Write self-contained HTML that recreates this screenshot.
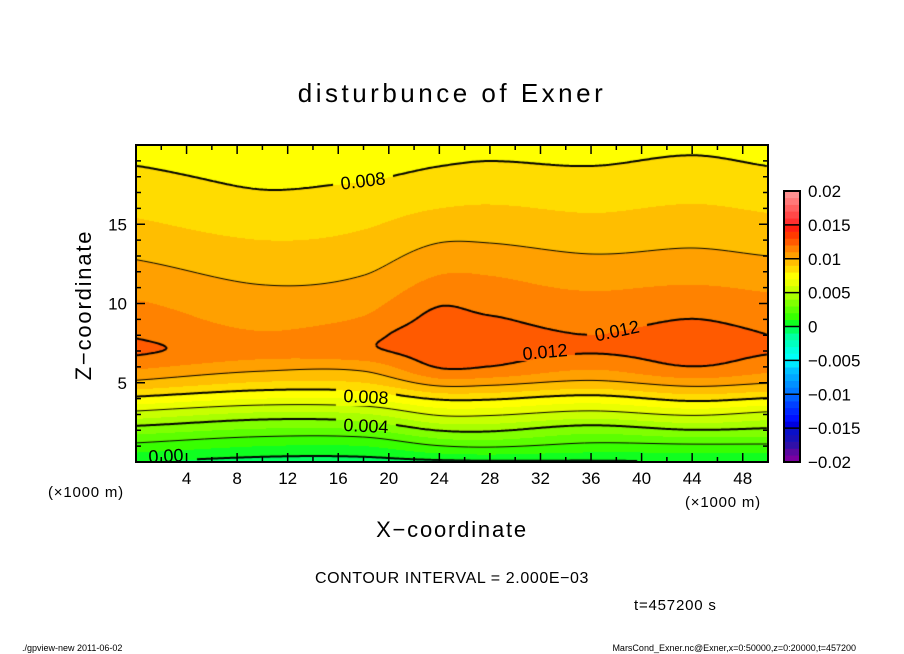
<!DOCTYPE html>
<html><head><meta charset="utf-8">
<style>
body{margin:0;background:#fff;width:904px;height:654px;overflow:hidden;position:relative;font-family:"Liberation Sans","DejaVu Sans",sans-serif;}
#plot{position:absolute;left:137px;top:145px;}
svg{position:absolute;left:0;top:0;}
</style></head>
<body>
<canvas id="plot" width="631" height="317"></canvas>
<svg id="ov" width="904" height="654"></svg>
<script>
// ---- data (values in units of 1e-3) ----
const xCols = [0, 10, 18, 24, 28, 36, 44, 50];
const zRows = [0, 1, 2, 3, 4, 5, 6, 7, 8, 9, 10, 12, 14, 16, 18, 20];
const col0  = [0, 1.7, 3.5, 5.6, 7.8, 9.8, 11.2, 12.2, 11.9, 11.5, 11.1, 10.3, 9.5, 8.8, 8.2, 7.6];
const col10 = [-0.4, 1.0, 2.8, 4.7, 7.0, 8.9, 10.4, 11.4, 11.1, 10.7, 10.4, 9.7, 9.0, 8.3, 7.8, 7.3];
const col18 = [-0.4, 1.0, 2.9, 4.9, 7.1, 9.0, 10.4, 11.8, 11.7, 11.1, 10.7, 9.9, 9.2, 8.6, 7.9, 7.4];
const col24 = [-0.2, 2.0, 4.1, 6.2, 8.2, 10.5, 12.1, 12.5, 12.6, 12.3, 11.9, 10.9, 9.9, 9.0, 8.2, 7.6];
const col28 = [-0.1, 2.2, 4.2, 6.2, 8.2, 10.4, 12.0, 12.4, 12.4, 12.1, 11.6, 10.9, 9.9, 9.1, 8.3, 7.7];
const col36 = [-0.1, 1.7, 3.4, 5.6, 7.6, 9.8, 11.2, 12.1, 12.0, 11.6, 11.3, 10.5, 9.6, 8.9, 8.2, 7.6];
const col44 = [0, 1.8, 4.0, 6.2, 8.4, 10.5, 12.0, 12.4, 12.4, 12.0, 11.6, 10.6, 9.8, 9.1, 8.4, 7.8];
const col50 = [0, 1.8, 3.8, 5.7, 8.0, 10.1, 11.4, 12.1, 12.0, 11.6, 11.3, 10.4, 9.6, 8.9, 8.2, 7.6];
const columns = [col0, col10, col18, col24, col28, col36, col44, col50];
const contourLevels = [-2, 0, 2, 4, 6, 8, 10, 12, 14];
const xTicks = [4, 8, 12, 16, 20, 24, 28, 32, 36, 40, 44, 48];
const zTicks = [5, 10, 15];
const cbTicks = ["0.02","0.015","0.01","0.005","0","−0.005","−0.01","−0.015","−0.02"];
// 40 band colours from -20 to +20 (x1e-3)
const bandColors = ["#7a00a0","#5a08a0","#3010a8","#1810b8","#0a10c8","#0000e0","#0010ff","#0028ff","#0040ff","#0060ff",
"#0078ff","#0090ff","#00a8ff","#00c0ff","#00e8ff","#00fff8","#00ffe0","#00ffc0","#00ffa0","#00ff60",
"#10ff20","#38ff00","#5cff00","#80ff00","#a8ff00","#c8ff00","#eaff00","#ffff00","#ffdc00","#ffbe00",
"#ffa000","#ff8200","#ff5a00","#ff3a00","#ff2010","#ff3030","#ff4848","#ff6060","#ff7878","#ff9090"];

// ---- axes ----
const PX0=136, PX1=768, PY0=462, PY1=145;
const sx = x => PX0 + (x/50)*(PX1-PX0);
const sz = z => PY0 - (z/20)*(PY0-PY1);

function herm(c, v, t){
  let n=c.length, k=0;
  if(t<=c[0]) return v[0]; if(t>=c[n-1]) return v[n-1];
  while(k<n-2 && t>c[k+1]) k++;
  const h=c[k+1]-c[k], s=(t-c[k])/h;
  const m0 = k>0 ? (v[k+1]-v[k-1])/(c[k+1]-c[k-1]) : (v[1]-v[0])/h;
  const m1 = k<n-2 ? (v[k+2]-v[k])/(c[k+2]-c[k]) : (v[k+1]-v[k])/h;
  const s2=s*s, s3=s2*s;
  return (2*s3-3*s2+1)*v[k] + (s3-2*s2+s)*h*m0 + (-2*s3+3*s2)*v[k+1] + (s3-s2)*h*m1;
}
function hexRGB(h){return [parseInt(h.substr(1,2),16),parseInt(h.substr(3,2),16),parseInt(h.substr(5,2),16)];}
const rgb = bandColors.map(hexRGB);

const cv=document.getElementById('plot'), ctx=cv.getContext('2d');
const W=cv.width, H=cv.height;
const F=new Float32Array(W*H);
for(let j=0;j<H;j++){
  const z=(PY0-(PY1+j+0.5))/(PY0-PY1)*20;
  const prof=columns.map(c=>herm(zRows,c,z));
  for(let i=0;i<W;i++){
    const x=(i+1.5)/(PX1-PX0)*50;
    F[j*W+i]=herm(xCols,prof,x);
  }
}
const img=ctx.createImageData(W,H);
for(let p=0;p<W*H;p++){
  let b=Math.floor(F[p])+20; b=Math.max(0,Math.min(39,b));
  const c=rgb[b]; img.data[p*4]=c[0];img.data[p*4+1]=c[1];img.data[p*4+2]=c[2];img.data[p*4+3]=255;
}
ctx.putImageData(img,0,0);
const st=2;
contourLevels.forEach(L=>{
  ctx.beginPath();
  ctx.lineWidth = (L%4===0)?2:1; ctx.strokeStyle='#000';
  for(let j=0;j+st<H;j+=st)for(let i=0;i+st<W;i+=st){
    const a=F[j*W+i],b=F[j*W+i+st],c=F[(j+st)*W+i+st],d=F[(j+st)*W+i];
    const pts=[];
    const e=(v1,v2,x1,y1,x2,y2)=>{if((v1<L)!==(v2<L)){const t=(L-v1)/(v2-v1);pts.push([x1+t*(x2-x1),y1+t*(y2-y1)]);}};
    e(a,b,i,j,i+st,j); e(b,c,i+st,j,i+st,j+st); e(d,c,i,j+st,i+st,j+st); e(a,d,i,j,i,j+st);
    if(pts.length>=2){ctx.moveTo(pts[0][0],pts[0][1]);ctx.lineTo(pts[1][0],pts[1][1]);}
    if(pts.length===4){ctx.moveTo(pts[2][0],pts[2][1]);ctx.lineTo(pts[3][0],pts[3][1]);}
  }
  ctx.stroke();
});
const labels=[["0.008",363,181,-7],["0.008",366,397,3],["0.004",366,426,3],["0.00",166,456,-3],["0.012",545,352,-5],["0.012",617,331,-12]];
labels.forEach(l=>{const x=l[1]-137-30,y=l[2]-145-10;ctx.putImageData(img,0,0,Math.max(0,x),Math.max(0,y),60,19);});

const NS='http://www.w3.org/2000/svg', sv=document.getElementById('ov');
function mk(tag,attrs,txt){const e=document.createElementNS(NS,tag);for(const k in attrs)e.setAttribute(k,attrs[k]);if(txt!==undefined)e.textContent=txt;sv.appendChild(e);return e;}
labels.forEach(l=>{
  const t=mk('text',{x:l[1],y:l[2]+6,'font-size':18,'text-anchor':'middle',transform:`rotate(${l[3]} ${l[1]} ${l[2]})`},l[0]);
  
  
});
const fr=mk('rect',{x:136,y:145,width:632,height:317,fill:'none',stroke:'#000','stroke-width':2});


let tp='';
for(let x=2;x<50;x+=2){const L=(x%4===0)?9:5;const X=sx(x);tp+=`M${X} ${PY0}v${-L}M${X} ${PY1}v${L}`;}
for(let z=1;z<20;z++){const L=(z%5===0)?9:5;const Y=sz(z);tp+=`M${PX0} ${Y}h${L}M${PX1} ${Y}h${-L}`;}
const tk=mk('path',{d:tp,stroke:'#000','stroke-width':1.5,fill:'none'});


xTicks.forEach(v=>{const t=mk('text',{x:sx(v),y:484,'font-size':17,'text-anchor':'middle'},String(v));
 
 });
zTicks.forEach(v=>{const t=mk('text',{x:127,y:sz(v)+6,'font-size':17,'text-anchor':'end'},String(v));
 
 });
const cbTop=191,cbBot=462,bh=(cbBot-cbTop)/40;
bandColors.forEach((c,k)=>{const r=mk('rect',{x:784,y:cbBot-(k+1)*bh,width:16,height:bh+0.3,fill:c});
 
 });
let cp='';for(let k=0;k<=8;k++){cp+=`M784 ${cbTop+k*(cbBot-cbTop)/8}h16`;}
mk('path',{d:cp,stroke:'#000','stroke-width':1.5});
const cbf=mk('rect',{x:784,y:cbTop,width:16,height:cbBot-cbTop,fill:'none',stroke:'#000','stroke-width':2});


cbTicks.forEach((s,k)=>{const t=mk('text',{x:808,y:cbTop+k*(cbBot-cbTop)/8+6,'font-size':17},s);
 
 });
</script>
<svg width="904" height="654" style="position:absolute;left:0;top:0;pointer-events:none">
<text x="452" y="102" font-size="26" text-anchor="middle" letter-spacing="3.5">disturbunce of Exner</text>
<text x="452" y="537" font-size="22" text-anchor="middle" letter-spacing="1.8">X−coordinate</text>
<text x="0" y="0" font-size="22" text-anchor="middle" letter-spacing="1.8" transform="translate(91 305) rotate(-90)">Z−coordinate</text>
<text x="48" y="497" font-size="15" letter-spacing="0.8">(×1000 m)</text>
<text x="685" y="507" font-size="15" letter-spacing="0.8">(×1000 m)</text>
<text x="452" y="583" font-size="16" text-anchor="middle" letter-spacing="0.6">CONTOUR INTERVAL = 2.000E−03</text>
<text x="634" y="610" font-size="15" letter-spacing="0.8">t=457200 s</text>
<text x="22" y="651" font-size="9">./gpview-new   2011-06-02</text>
<text x="856" y="651" font-size="9" text-anchor="end">MarsCond_Exner.nc@Exner,x=0:50000,z=0:20000,t=457200</text>
</svg>
</body></html>
